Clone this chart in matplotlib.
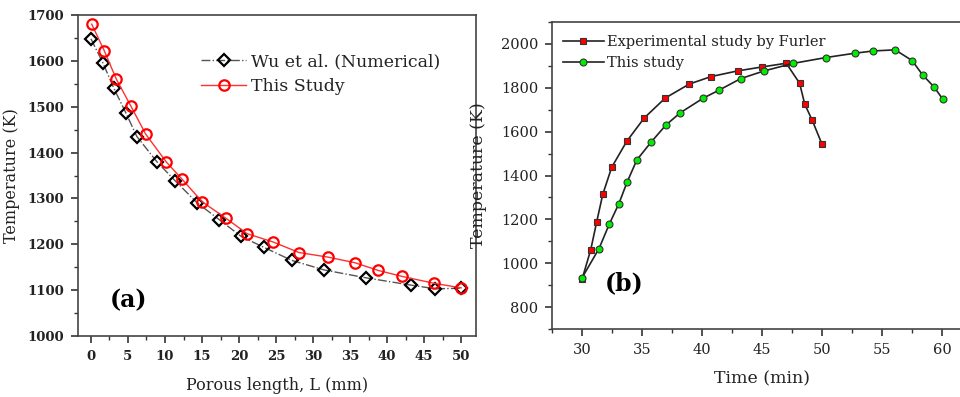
import matplotlib
matplotlib.use("Agg")
import matplotlib.pyplot as plt
from matplotlib.ticker import MultipleLocator

plt.rcParams['font.family'] = ['DejaVu Serif']

# panel (a): temperature vs porous length
wu_x = [0, 1.6, 3.1, 4.7, 6.2, 8.9, 11.4, 14.3, 17.3, 20.3, 23.4, 27.1, 31.5, 37.1, 43.2, 46.5, 50]
wu_t = [1648, 1596, 1540, 1487, 1435, 1380, 1338, 1291, 1254, 1217, 1193, 1165, 1144, 1127, 1111, 1103, 1104]
st_x = [0.1, 1.8, 3.4, 5.4, 7.4, 10.2, 12.3, 15.0, 18.2, 21.1, 24.6, 28.1, 32.0, 35.6, 38.8, 42.0, 46.3, 50]
st_t = [1680, 1622, 1561, 1501, 1440, 1379, 1342, 1293, 1257, 1223, 1205, 1182, 1172, 1160, 1143, 1130, 1115, 1105]

# panel (b): temperature vs time
exp_x = [30, 30.73, 31.23, 31.73, 32.48, 33.73, 35.18, 36.93, 38.94, 40.75, 42.97, 45.01, 47.02,
         48.13, 48.57, 49.16, 49.99]
exp_t = [926, 1062, 1190, 1314, 1438, 1556, 1662, 1753, 1817, 1851, 1877, 1895, 1912,
         1821, 1724, 1655, 1544]
sim_x = [30, 31.42, 32.28, 33.07, 33.76, 34.57, 35.74, 36.99, 38.19, 40.11, 41.45, 43.23, 45.18,
         47.57, 50.33, 52.78, 54.29, 56.1, 57.51, 58.38, 59.35, 60.05]
sim_t = [933, 1067, 1179, 1271, 1370, 1471, 1551, 1630, 1686, 1753, 1790, 1842, 1877,
         1911, 1938, 1958, 1968, 1973, 1924, 1859, 1803, 1749]

W, H = 960, 397
fig = plt.figure(figsize=(9.6, 3.97), dpi=100)
txt = '#222222'

# ---- (a)
ax1 = fig.add_axes([78 / W, 61 / H, 398 / W, 321 / H])
ax1.plot(wu_x, wu_t, color='#555555', linestyle='-.', linewidth=1.0,
         marker='D', markersize=6.5, markerfacecolor='none', markeredgecolor='black',
         markeredgewidth=1.6, label='Wu et al. (Numerical)')
ax1.plot(st_x, st_t, color='#ff3030', linestyle='-', linewidth=1.0,
         marker='o', markersize=7.5, markerfacecolor='none', markeredgecolor='#ff0000',
         markeredgewidth=1.6, label='This Study')
ax1.set_xlim(-1.75, 52)
ax1.set_ylim(1000, 1700)
ax1.xaxis.set_major_locator(MultipleLocator(5))
ax1.xaxis.set_minor_locator(MultipleLocator(2.5))
ax1.yaxis.set_major_locator(MultipleLocator(100))
ax1.yaxis.set_minor_locator(MultipleLocator(50))
ax1.tick_params(which='both', direction='out', colors='#333333', labelcolor=txt)
ax1.tick_params(which='major', length=5, width=1.2, labelsize=9.5, pad=5)
ax1.tick_params(which='minor', length=3, width=1.0)
for lab in ax1.get_xticklabels() + ax1.get_yticklabels():
    lab.set_fontweight('bold')
for s in ax1.spines.values():
    s.set_linewidth(1.2)
    s.set_color('#444444')
ax1.set_xlabel('Porous length, L (mm)', fontsize=11.5, color=txt, labelpad=10)
ax1.set_ylabel('Temperature (K)', fontsize=11.5, color=txt)
ax1.yaxis.set_label_coords(-0.145, 0.5)
ax1.legend(loc='upper left', bbox_to_anchor=(0.27, 0.93), frameon=False, fontsize=12.5,
           handlelength=2.6, handletextpad=0.3, labelspacing=0.45, labelcolor=txt)
ax1.text(0.08, 0.11, '(a)', transform=ax1.transAxes, fontsize=17, fontweight='bold',
         color='black', va='center')

# ---- (b)
ax2 = fig.add_axes([552 / W, 68 / H, 420 / W, 307 / H])
ax2.plot(exp_x, exp_t, color='#222222', linewidth=1.2, marker='s', markersize=4.5,
         markerfacecolor='#ff0000', markeredgecolor='#333333', markeredgewidth=0.8,
         label='Experimental study by Furler')
ax2.plot(sim_x, sim_t, color='#222222', linewidth=1.2, marker='o', markersize=5,
         markerfacecolor='#00ee00', markeredgecolor='#333333', markeredgewidth=0.8,
         label='This study')
ax2.set_xlim(27.5, 62.5)
ax2.set_ylim(700, 2100)
ax2.xaxis.set_major_locator(MultipleLocator(5))
ax2.xaxis.set_minor_locator(MultipleLocator(2.5))
ax2.yaxis.set_major_locator(MultipleLocator(200))
ax2.yaxis.set_minor_locator(MultipleLocator(100))
ax2.tick_params(which='both', direction='out', colors='#333333', labelcolor=txt)
ax2.tick_params(which='major', length=5, width=1.2, labelsize=10.5, pad=5)
ax2.tick_params(which='minor', length=3, width=1.0)
for s in ax2.spines.values():
    s.set_linewidth(1.2)
    s.set_color('#444444')
ax2.set_xlabel('Time (min)', fontsize=12.5, color=txt, labelpad=10)
ax2.set_ylabel('Temperature (K)', fontsize=12.5, color=txt)
ax2.yaxis.set_label_coords(-0.155, 0.5)
ax2.legend(loc='upper left', bbox_to_anchor=(-0.005, 1.0), frameon=False, fontsize=10.5,
           handlelength=2.8, handletextpad=0.2, labelspacing=0.45, labelcolor=txt)
ax2.text(0.125, 0.15, '(b)', transform=ax2.transAxes, fontsize=17, fontweight='bold',
         color='black', va='center')

fig.savefig('out.png', dpi=100)
